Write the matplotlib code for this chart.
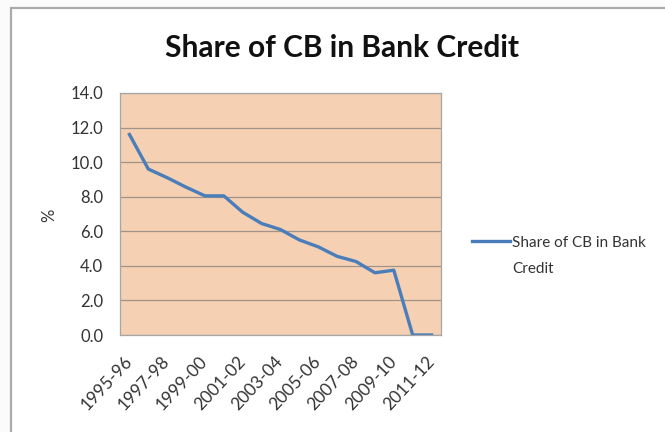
import matplotlib
matplotlib.use("Agg")
import matplotlib.pyplot as plt
from matplotlib.patches import Rectangle
from matplotlib.lines import Line2D

years = ["1995-96", "1996-97", "1997-98", "1998-99", "1999-00", "2000-01", "2001-02",
         "2002-03", "2003-04", "2004-05", "2005-06", "2006-07", "2007-08", "2008-09",
         "2009-10", "2010-11", "2011-12"]
share = [11.6, 9.6, 9.1, 8.55, 8.05, 8.05, 7.1, 6.45, 6.1, 5.5, 5.1, 4.55, 4.25, 3.6, 3.75, 0.0, 0.0]
yticks = [0, 2, 4, 6, 8, 10, 12, 14]
series_name = "Share of CB in Bank\nCredit"

plt.rcParams['font.family'] = ['Lato', 'DejaVu Sans']

W, H = 665, 432
fig = plt.figure(figsize=(W / 100, H / 100), dpi=100)
fig.patch.set_facecolor("#FAFBFA")
fig.patches.append(Rectangle((11 / W, -0.1), 1.2, 1.1 - 8 / H, transform=fig.transFigure,
                             facecolor="white", edgecolor="#A9ABA9", linewidth=1.6,
                             zorder=-10))

ax = fig.add_axes([120 / W, 1 - 335 / H, 321 / W, 242 / H])
ax.set_facecolor("#F6D0B2")
x = list(range(len(years)))
line, = ax.plot(x, share, color="#4A7EBB", linewidth=2.4)
ax.set_xlim(-0.5, len(years) - 0.5)
ax.set_ylim(0, 14)
ax.set_yticks(yticks)
ax.set_yticklabels([f"{v:.1f}" for v in yticks], fontsize=12, color="#333333")
ax.set_xticks(x[::2])
ax.set_xticklabels(years[::2], rotation=47, ha="right", va="center", rotation_mode="anchor",
                   fontsize=12.5, color="#333333")
ax.tick_params(axis="x", length=0, pad=17)
ax.tick_params(axis="y", length=0, pad=12)
ax.grid(axis="y", color="#A0938A", linewidth=0.9)
ax.set_axisbelow(True)
for s in ax.spines.values():
    s.set_color("#A6A6A6")
    s.set_linewidth(0.9)
ax.set_ylabel("%", fontsize=12, color="#333333")
ax.yaxis.set_label_coords(-0.196, 0.496)

fig.text(342 / W, 1 - 48 / H, "Share of CB in Bank Credit", ha="center", va="center",
         fontsize=21.5, fontweight="bold", color="#111111")

# legend
fig.lines.append(Line2D([472 / W, 510 / W], [1 - 241 / H, 1 - 241 / H],
                        transform=fig.transFigure, color=line.get_color(), linewidth=2.4))
fig.text(512 / W, 1 - 236 / H, series_name, ha="left", va="top", fontsize=11,
         color="#333333", linespacing=2.05)

fig.savefig("out.png", dpi=100)
